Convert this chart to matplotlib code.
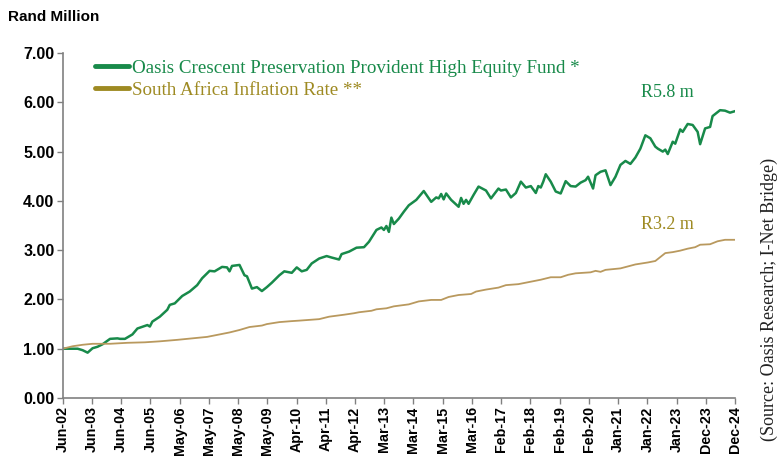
import matplotlib

matplotlib.use("Agg")
import matplotlib.pyplot as plt
from matplotlib.lines import Line2D

# months counted from Jun-2002
fund_months = [0, 3, 6, 8, 10, 12, 14, 16, 19, 22, 23, 25, 28, 30, 34, 35, 36, 39, 42, 43,
               45, 48, 51, 54, 56, 59, 61, 64, 66, 67, 68, 71, 73, 74, 76, 78, 80, 82, 84, 87,
               89, 92, 94, 96, 98, 100, 103, 106, 108, 111, 112, 115, 118, 121, 123, 126, 128, 129, 130, 131,
               132, 133, 135, 137, 139, 142, 145, 148, 150, 151, 152, 153, 154, 156, 159, 160, 161, 162, 163, 165,
               167, 170, 172, 175, 176, 178, 180, 182, 184, 186, 188, 190, 191, 192, 193, 194, 196, 198, 200, 202,
               204, 206, 208, 210, 211, 213, 214, 216, 218, 220, 222, 224, 226, 228, 230, 232, 234, 236, 238, 239,
               241, 242, 243, 245, 246, 248, 249, 251, 253, 255, 256, 258, 260, 261, 264, 266, 268, 270]
fund_values = [1.00, 1.00, 1.00, 0.97, 0.92, 1.01, 1.04, 1.09, 1.20, 1.21, 1.20, 1.20, 1.29, 1.41, 1.48, 1.45, 1.55, 1.65, 1.79, 1.89,
               1.92, 2.07, 2.16, 2.29, 2.43, 2.58, 2.57, 2.66, 2.65, 2.57, 2.68, 2.70, 2.49, 2.47, 2.22, 2.25, 2.17, 2.25, 2.34, 2.49,
               2.57, 2.54, 2.65, 2.57, 2.60, 2.73, 2.83, 2.88, 2.85, 2.81, 2.92, 2.97, 3.05, 3.06, 3.17, 3.41, 3.46, 3.41, 3.49, 3.37,
               3.66, 3.53, 3.64, 3.78, 3.91, 4.02, 4.20, 3.98, 4.07, 4.05, 4.14, 4.03, 4.15, 4.02, 3.88, 4.06, 3.94, 4.02, 3.94, 4.12,
               4.29, 4.21, 4.05, 4.25, 4.21, 4.23, 4.07, 4.16, 4.39, 4.27, 4.30, 4.16, 4.30, 4.27, 4.39, 4.54, 4.39, 4.19, 4.15, 4.40,
               4.30, 4.29, 4.37, 4.42, 4.49, 4.25, 4.52, 4.59, 4.62, 4.32, 4.49, 4.73, 4.81, 4.75, 4.88, 5.06, 5.33, 5.27, 5.10, 5.06,
               5.00, 5.04, 4.95, 5.20, 5.16, 5.45, 5.40, 5.56, 5.54, 5.40, 5.15, 5.47, 5.50, 5.72, 5.84, 5.83, 5.79, 5.82]

cpi_months = [0, 4, 8, 12, 19, 26, 33, 39, 46, 52, 58, 63, 67, 71, 75, 80, 82, 87, 92, 95,
              103, 107, 113, 117, 119, 124, 126, 130, 133, 139, 143, 148, 152, 155, 159, 164, 166, 170, 175, 178,
              183, 188, 192, 196, 200, 203, 206, 212, 214, 216, 218, 224, 227, 230, 235, 238, 240, 242, 245, 248,
              251, 254, 256, 260, 263, 266, 270]
cpi_values = [1.00, 1.05, 1.08, 1.10, 1.10, 1.12, 1.13, 1.15, 1.18, 1.21, 1.24, 1.29, 1.33, 1.38, 1.44, 1.47, 1.50, 1.54, 1.56, 1.57,
              1.60, 1.65, 1.69, 1.72, 1.74, 1.77, 1.80, 1.82, 1.86, 1.90, 1.96, 1.99, 1.99, 2.05, 2.09, 2.11, 2.16, 2.20, 2.24, 2.29,
              2.31, 2.36, 2.40, 2.45, 2.45, 2.50, 2.53, 2.55, 2.58, 2.56, 2.60, 2.63, 2.67, 2.71, 2.75, 2.78, 2.86, 2.94, 2.96, 2.99,
              3.03, 3.06, 3.11, 3.12, 3.18, 3.21, 3.21]

tick_labels = ["Jun-02", "Jun-03", "Jun-04", "Jun-05", "May-06", "May-07", "May-08", "May-09",
               "Apr-10", "Apr-11", "Apr-12", "Mar-13", "Mar-14", "Mar-15", "Mar-16", "Feb-17",
               "Feb-18", "Feb-19", "Feb-20", "Jan-21", "Jan-22", "Jan-23", "Dec-23", "Dec-24"]
last_month = 270

fund_name = "Oasis Crescent Preservation Provident High Equity Fund *"
cpi_name = "South Africa Inflation Rate **"

GREEN = "#188A4A"
TAN = "#B9995E"
OLIVE = "#9E8A22"
SERIF = "Liberation Serif"

fig = plt.figure(figsize=(7.79, 4.57), dpi=100)
ax = fig.add_axes([0.0805, 0.1291, 0.863, 0.7549])

ax.plot(fund_months, fund_values, color=GREEN, lw=1.8, solid_joinstyle="round")
ax.plot(cpi_months, cpi_values, color=TAN, lw=1.3, solid_joinstyle="round")

ax.set_xlim(0, last_month)
ax.set_ylim(0, 7)
step = last_month / (len(tick_labels) - 1)
ax.set_xticks([i * step for i in range(len(tick_labels))])
ax.set_xticklabels(tick_labels, rotation=90, fontsize=10.3, fontweight="bold", family="Liberation Sans")
ax.set_yticks(range(8))
ax.set_yticklabels([f"{v:.2f}" for v in range(8)], fontsize=11.5, fontweight="bold", family="Liberation Sans")
ax.tick_params(direction="out", length=4, width=1, color="#808080", pad=2)

for side in ("top", "right"):
    ax.spines[side].set_visible(False)
for side in ("left", "bottom"):
    ax.spines[side].set_color("#808080")
    ax.spines[side].set_linewidth(1.2)

handles = [Line2D([], [], color=GREEN, lw=3.5, solid_capstyle="round"),
           Line2D([], [], color=OLIVE, lw=3.5, solid_capstyle="round")]
ax.legend(handles, [fund_name, cpi_name], loc="upper left", bbox_to_anchor=(0.028, 1.02),
          frameon=False, labelcolor=[GREEN, OLIVE], prop={"family": SERIF, "size": 13.7},
          handlelength=1.8, handletextpad=0.15, labelspacing=0.25, borderaxespad=0.3)

ax.text(243, 6.19, "R5.8 m", color=GREEN, family=SERIF, fontsize=13, ha="center", va="center")
ax.text(243, 3.53, "R3.2 m", color=OLIVE, family=SERIF, fontsize=13, ha="center", va="center")

fig.text(0.01, 0.962, "Rand Million", fontsize=11, fontweight="bold", family="Liberation Sans",
         ha="left", va="center")
fig.text(0.988, 0.345, "(Source: Oasis Research; I-Net Bridge)", rotation=90, family=SERIF,
         fontsize=13, ha="center", va="center", color="#222222")

fig.savefig("out.png", dpi=100)
